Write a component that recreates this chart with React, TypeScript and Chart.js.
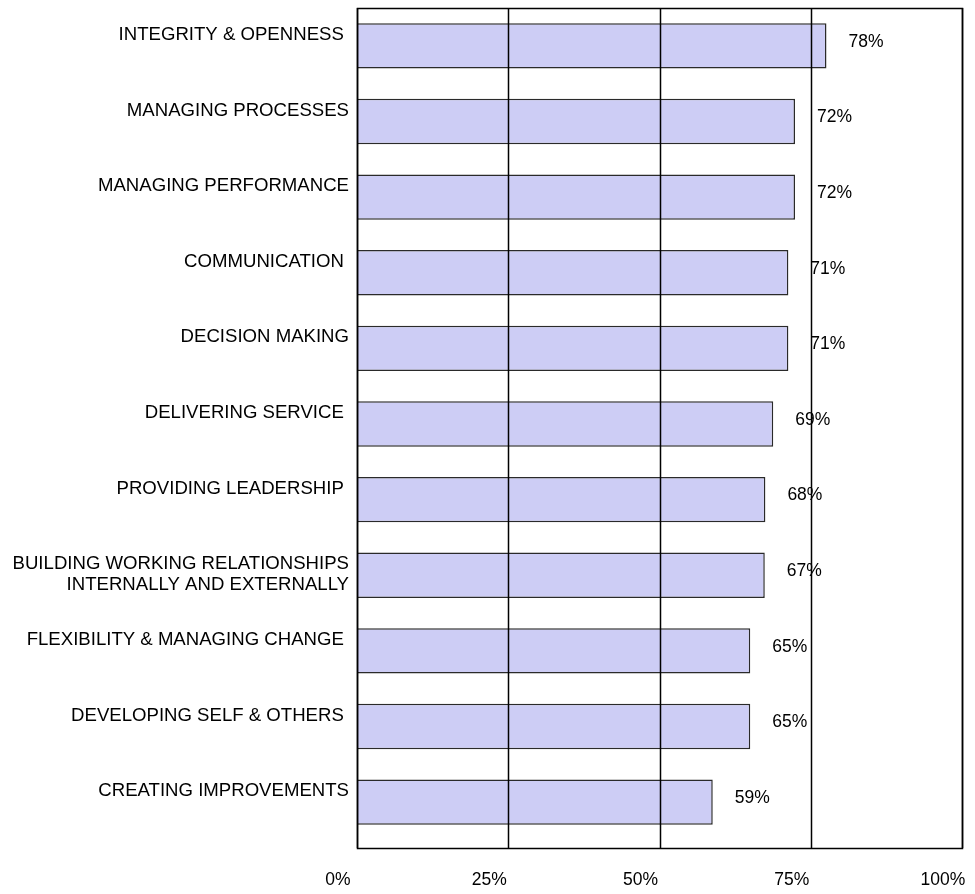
import React, { useEffect, useRef } from "react";
import { Chart, registerables } from "chart.js";

Chart.register(...registerables);

const categories: (string | string[])[] = [
  "INTEGRITY & OPENNESS ",
  "MANAGING PROCESSES",
  "MANAGING PERFORMANCE",
  "COMMUNICATION ",
  "DECISION MAKING",
  "DELIVERING SERVICE ",
  "PROVIDING LEADERSHIP ",
  ["", "BUILDING WORKING RELATIONSHIPS", "INTERNALLY AND EXTERNALLY"],
  "FLEXIBILITY & MANAGING CHANGE ",
  "DEVELOPING SELF & OTHERS ",
  "CREATING IMPROVEMENTS",
];

const scores = [77.6, 72.4, 72.4, 71.3, 71.3, 68.8, 67.5, 67.4, 65.0, 65.0, 58.8];
const scoreLabels = ["78%", "72%", "72%", "71%", "71%", "69%", "68%", "67%", "65%", "65%", "59%"];
const xTickLabels = ["0%", "25%", "50%", "75%", "100%"];

const FONT = "'Liberation Sans', Arial, Helvetica, sans-serif";
const EXTRA_BOTTOM = 8;

const framePlugin = {
  id: "frame",
  afterDatasetsDraw(chart: any) {
    const { ctx, chartArea, scales } = chart;
    const x = scales.x;
    const bottom = chartArea.bottom + EXTRA_BOTTOM;
    ctx.save();
    ctx.strokeStyle = "#000";
    ctx.lineWidth = 1.5;
    x.ticks.forEach((t: any) => {
      const px = Math.round(x.getPixelForValue(t.value)) + 0.5;
      ctx.beginPath();
      ctx.moveTo(px, chartArea.top);
      ctx.lineTo(px, bottom);
      ctx.stroke();
    });
    const l = Math.round(chartArea.left) + 0.5;
    const r = Math.round(chartArea.right) + 0.5;
    const tp = Math.round(chartArea.top) + 0.5;
    const bt = Math.round(bottom) + 0.5;
    ctx.strokeRect(l, tp, r - l, bt - tp);
    ctx.restore();

    // value labels
    const meta = chart.getDatasetMeta(0);
    ctx.save();
    ctx.fillStyle = "#000";
    ctx.font = `17.5px ${FONT}`;
    ctx.textAlign = "left";
    ctx.textBaseline = "middle";
    meta.data.forEach((bar: any, i: number) => {
      ctx.fillText(scoreLabels[i], bar.x + 22, bar.y - 4);
    });
    ctx.restore();
  },
};

export default function App() {
  const ref = useRef<HTMLCanvasElement>(null);

  useEffect(() => {
    if (!ref.current) return;
    const chart = new Chart(ref.current, {
      type: "bar",
      data: {
        labels: categories,
        datasets: [
          {
            data: scores,
            backgroundColor: "#CDCDF5",
            borderColor: "#2a2a2a",
            borderWidth: 1.5,
            barPercentage: 0.6,
            categoryPercentage: 1,
          },
        ],
      },
      options: {
        indexAxis: "y",
        animation: false,
        responsive: true,
        maintainAspectRatio: false,
        layout: { padding: { left: 0, top: 8, right: 13, bottom: 0 } },
        plugins: {
          legend: { display: false },
          tooltip: { enabled: false },
        },
        scales: {
          x: {
            min: 0,
            max: 100,
            grid: { display: false, drawTicks: false },
            border: { display: false },
            ticks: {
              stepSize: 25,
              padding: 30,
              labelOffset: -19,
              color: "#000",
              font: { family: FONT, size: 17.5 },
              callback: (_v: any, i: number) => xTickLabels[i],
            },
            afterFit: (s: any) => {
              s.height = 54;
              s.paddingLeft = 0;
              s.paddingRight = 0;
            },
          },
          y: {
            grid: { display: false, drawTicks: false },
            border: { display: false },
            ticks: {
              padding: 8,
              labelOffset: -11,
              color: "#000",
              autoSkip: false,
              font: { family: FONT, size: 18.6, lineHeight: 1.13 },
            },
            afterFit: (s: any) => {
              s.width = 357;
              s.paddingTop = 0;
              s.paddingBottom = 0;
            },
          },
        },
      },
      plugins: [framePlugin],
    });
    return () => chart.destroy();
  }, []);

  return (
    <div
      style={{
        position: "fixed",
        left: 0,
        top: 0,
        width: 975,
        height: 894,
        background: "#fff",
      }}
    >
      <canvas ref={ref} />
    </div>
  );
}
